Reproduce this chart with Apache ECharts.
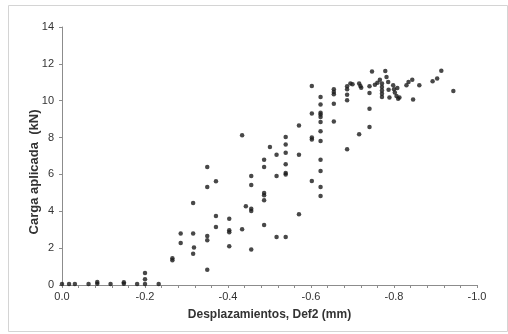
<!DOCTYPE html>
<html>
<head>
<meta charset="utf-8">
<script src="https://cdn.jsdelivr.net/npm/echarts@6/dist/echarts.min.js"></script>
<style>
  html, body { margin: 0; padding: 0; background: #fff; }
  #chart { width: 508px; height: 334px; }
</style>
</head>
<body>
<div id="chart"></div>
<script>
// desplazamiento (mm) y carga (kN)
const desplazamiento = [
  0.0, -0.017, -0.031, -0.064, -0.085, -0.085, -0.117, -0.149, -0.149, -0.181, -0.2, -0.2, -0.2, -0.233,
  -0.266, -0.266, -0.286, -0.286,
  -0.316, -0.316, -0.318, -0.316,
  -0.35, -0.35, -0.35, -0.35, -0.35,
  -0.371, -0.371, -0.371,
  -0.403, -0.403, -0.403, -0.403,
  -0.434, -0.434, -0.443,
  -0.456, -0.456, -0.456, -0.456, -0.456,
  -0.487, -0.487, -0.487, -0.487, -0.487, -0.487,
  -0.501,
  -0.517, -0.517, -0.517,
  -0.539, -0.539, -0.539, -0.539, -0.539, -0.539, -0.539,
  -0.571, -0.571, -0.571,
  -0.602, -0.602, -0.602, -0.602, -0.602,
  -0.623, -0.623, -0.623, -0.623, -0.623, -0.623, -0.623, -0.623, -0.623, -0.623, -0.623, -0.623,
  -0.655, -0.655, -0.655, -0.655, -0.655,
  -0.687, -0.687, -0.687, -0.687, -0.687,
  -0.695, -0.700,
  -0.716, -0.719, -0.721, -0.716,
  -0.741, -0.741, -0.741, -0.741,
  -0.747, -0.754, -0.760, -0.766,
  -0.771, -0.771, -0.771, -0.771, -0.771,
  -0.779, -0.782, -0.786, -0.787, -0.789,
  -0.798, -0.800, -0.802, -0.806, -0.808, -0.810, -0.813,
  -0.830, -0.835, -0.844, -0.846, -0.861,
  -0.893, -0.904, -0.914, -0.943
]
const carga = [
  0.05, 0.05, 0.05, 0.05, 0.07, 0.16, 0.05, 0.07, 0.15, 0.05, 0.05, 0.31, 0.65, 0.05,
  1.34, 1.45, 2.28, 2.79,
  4.45, 2.79, 2.03, 1.70,
  6.40, 5.32, 2.66, 2.43, 0.83,
  5.63, 3.75, 3.15,
  3.60, 2.97, 2.86, 2.10,
  8.12, 3.02, 4.27,
  5.92, 5.43, 4.14, 4.02, 1.92,
  6.80, 6.40, 4.99, 4.87, 4.60, 3.26,
  7.49,
  7.07, 5.92, 2.60,
  8.03, 7.62, 7.18, 6.55, 6.08, 5.99, 2.60,
  8.65, 7.07, 3.84,
  10.80, 9.30, 8.00, 7.89, 5.64,
  10.20, 9.79, 9.35, 9.25, 9.12, 8.84, 8.34, 7.81, 6.80, 6.19, 5.32, 4.83,
  10.62, 10.47, 10.35, 9.84, 8.87,
  10.78, 10.62, 10.33, 10.02, 7.36,
  10.93, 10.89,
  10.94, 10.80, 10.71, 8.18,
  10.78, 10.42, 9.57, 8.57,
  11.58, 10.87, 10.98, 11.14,
  10.93, 10.74, 10.56, 10.38, 10.20,
  11.61, 11.29, 11.02, 10.60, 10.17,
  10.84, 10.62, 10.44, 10.26, 10.69, 10.11, 10.18,
  10.84, 11.02, 11.14, 10.06, 10.84,
  11.05, 11.20, 11.63, 10.53
]

const puntos = desplazamiento.map((d, i) => [d, carga[i]])

const chart = echarts.init(document.getElementById('chart'))

const axisColor = '#8c8c8c'
const textColor = '#333'
const font = 'Liberation Sans, Arial, sans-serif'

chart.setOption({
  animation: false,
  backgroundColor: '#fff',
  graphic: [{
    type: 'rect',
    shape: { x: 8.5, y: 5.5, width: 499, height: 326 },
    style: { fill: 'none', stroke: '#d4d4d4', lineWidth: 1 },
    silent: true
  }, {
    // el título del eje Y está algo por debajo del centro del área de trazado
    type: 'text',
    x: 34,
    y: 172,
    rotation: Math.PI / 2,
    style: {
      text: 'Carga aplicada  (kN)',
      font: 'bold 13px ' + font,
      fill: textColor,
      align: 'center',
      verticalAlign: 'middle'
    },
    silent: true
  }],
  grid: { left: 62, right: 31, top: 27, bottom: 49 },
  xAxis: {
    type: 'value',
    min: -1,
    max: 0,
    interval: 0.2,
    inverse: true,
    name: 'Desplazamientos, Def2 (mm)',
    nameLocation: 'middle',
    nameGap: 24,
    nameTextStyle: { fontFamily: font, fontSize: 12, fontWeight: 'bold', color: textColor },
    axisLine: { show: true, lineStyle: { color: axisColor } },
    axisTick: { show: true, length: 3, lineStyle: { color: axisColor } },
    minorTick: { show: true, splitNumber: 5, length: 3, lineStyle: { color: axisColor } },
    splitLine: { show: false },
    axisLabel: {
      fontFamily: font, fontSize: 11, color: textColor, margin: 6,
      formatter: (v) => (Math.abs(v) < 1e-9 ? 0 : v).toFixed(1)
    }
  },
  yAxis: {
    type: 'value',
    min: 0,
    max: 14,
    interval: 2,
    axisLine: { show: true, lineStyle: { color: axisColor } },
    axisTick: { show: true, length: 3, lineStyle: { color: axisColor } },
    splitLine: { show: false },
    axisLabel: { fontFamily: font, fontSize: 11, color: textColor, margin: 8 }
  },
  series: [{
    type: 'scatter',
    data: puntos,
    symbol: 'circle',
    symbolSize: 4.5,
    itemStyle: { color: '#1a1a1a' }
  }]
})
</script>
</body>
</html>
